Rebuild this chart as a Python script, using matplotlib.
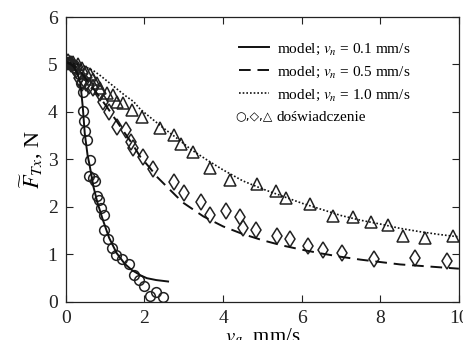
import matplotlib
matplotlib.use('Agg')
import matplotlib.pyplot as plt
from matplotlib.text import Text

plt.rcParams['font.family'] = ['Liberation Serif', 'DejaVu Sans']
plt.rcParams['mathtext.fontset'] = 'stix'

# measured points, v_n = 0.1 mm/s (circles)
circ_x = [0.00, 0.05, 0.10, 0.15, 0.20, 0.26, 0.33, 0.38, 0.43, 0.44, 0.46, 0.48, 0.53,
          0.61, 0.60, 0.68, 0.75, 0.79, 0.85, 0.90, 0.97, 0.96, 1.07, 1.17, 1.27, 1.44,
          1.61, 1.73, 1.87, 1.98, 2.14, 2.29, 2.47]
circ_y = [5.03, 5.06, 5.04, 5.01, 4.98, 4.93, 4.80, 4.62, 4.43, 4.02, 3.80, 3.59, 3.40,
          2.99, 2.65, 2.60, 2.55, 2.24, 2.14, 1.97, 1.83, 1.52, 1.32, 1.14, 0.99, 0.91,
          0.80, 0.57, 0.47, 0.34, 0.13, 0.21, 0.11]

# measured points, v_n = 0.5 mm/s (diamonds)
diam_x = [0.05, 0.12, 0.20, 0.27, 0.34, 0.40, 0.50, 0.60, 0.70, 0.87, 0.95, 1.10, 1.29,
          1.53, 1.65, 1.72, 1.97, 2.21, 2.76, 3.00, 3.44, 3.67, 4.08, 4.42, 4.51, 4.85,
          5.36, 5.71, 6.16, 6.55, 7.02, 7.84, 8.89, 9.69]
diam_y = [5.05, 5.02, 4.95, 4.88, 4.72, 4.60, 4.62, 4.55, 4.50, 4.39, 4.22, 4.00, 3.69,
          3.62, 3.37, 3.24, 3.06, 2.79, 2.53, 2.30, 2.11, 1.83, 1.92, 1.78, 1.55, 1.52,
          1.38, 1.33, 1.18, 1.09, 1.04, 0.91, 0.93, 0.86]

# measured points, v_n = 1.0 mm/s (triangles)
tri_x = [0.10, 0.19, 0.30, 0.40, 0.50, 0.61, 0.70, 0.78, 0.87, 1.04, 1.21, 1.29, 1.46,
         1.68, 1.93, 2.40, 2.76, 2.94, 3.24, 3.66, 4.17, 4.87, 5.35, 5.59, 6.22, 6.80,
         7.31, 7.77, 8.20, 8.59, 9.13, 9.84]
tri_y = [5.05, 5.06, 5.00, 4.92, 4.85, 4.81, 4.70, 4.60, 4.50, 4.40, 4.36, 4.22, 4.18,
         4.04, 3.90, 3.66, 3.52, 3.33, 3.15, 2.82, 2.56, 2.49, 2.34, 2.18, 2.06, 1.81,
         1.78, 1.69, 1.61, 1.39, 1.34, 1.39]

# model curves
m1_x = [0.0, 0.1, 0.2, 0.3, 0.37, 0.43, 0.48, 0.55, 0.61, 0.70, 0.80, 0.94, 1.10, 1.29,
        1.50, 1.68, 1.90, 2.06, 2.30, 2.60]
m1_y = [5.05, 5.02, 4.95, 4.80, 4.60, 4.10, 3.55, 3.10, 2.85, 2.43, 2.10, 1.73, 1.35, 1.03,
        0.80, 0.67, 0.56, 0.50, 0.46, 0.43]

m2_x = [0.0, 0.2, 0.4, 0.6, 0.8, 1.04, 1.33, 1.68, 1.89, 2.14, 2.31, 2.82, 3.0, 3.5, 4.0,
        4.5, 5.0, 5.5, 6.0, 6.5, 7.0, 7.5, 8.0, 8.5, 9.0, 9.5, 10.0]
m2_y = [5.05, 4.98, 4.82, 4.60, 4.38, 4.11, 3.76, 3.34, 3.06, 2.82, 2.64, 2.22, 2.08, 1.80,
        1.59, 1.43, 1.30, 1.19, 1.10, 1.02, 0.95, 0.89, 0.84, 0.79, 0.76, 0.73, 0.70]

m3_x = [0.0, 0.4, 0.7, 0.87, 1.2, 1.5, 1.72, 1.89, 2.23, 2.5, 2.82, 3.2, 3.59, 4.0, 4.5,
        5.0, 5.5, 6.0, 6.5, 7.0, 7.5, 8.0, 8.5, 9.0, 9.5, 10.0]
m3_y = [5.05, 4.99, 4.87, 4.77, 4.55, 4.35, 4.22, 4.06, 3.83, 3.65, 3.45, 3.20, 2.99, 2.78,
        2.55, 2.38, 2.23, 2.08, 1.95, 1.82, 1.72, 1.64, 1.55, 1.48, 1.42, 1.37]

labels = ['model; $v_n$ = 0.1 mm/s', 'model; $v_n$ = 0.5 mm/s',
          'model; $v_n$ = 1.0 mm/s', 'doświadczenie']


class SymbolHandler:
    def legend_artist(self, legend, orig_handle, fontsize, handlebox):
        t = Text(handlebox.xdescent + handlebox.width / 2, handlebox.height / 2 - 1,
                 '○,◇,△', fontsize=fontsize * 0.8, ha='center', va='center',
                 family=['DejaVu Sans'])
        handlebox.add_artist(t)
        return t


fig = plt.figure(figsize=(4.64, 3.40), dpi=100)
ax = fig.add_axes([0.142, 0.112, 0.847, 0.838])

mk = dict(linestyle='none', markerfacecolor='none', markeredgecolor='#222222',
          markeredgewidth=1.1)
ax.plot(circ_x, circ_y, marker='o', markersize=7, **mk)
ax.plot(diam_x, diam_y, marker='d', markersize=8, **mk)
ax.plot(tri_x, tri_y, marker='^', markersize=8, **mk)

l1, = ax.plot(m1_x, m1_y, color='#111111', lw=1.4, linestyle='-')
l2, = ax.plot(m2_x, m2_y, color='#111111', lw=1.4, linestyle=(0, (6, 3.5)))
l3, = ax.plot(m3_x, m3_y, color='#111111', lw=1.2, linestyle=(0, (1, 1.2)))

ax.set_xlim(0, 10)
ax.set_ylim(0, 6)
ax.set_xticks([0, 2, 4, 6, 8, 10])
ax.set_yticks([0, 1, 2, 3, 4, 5, 6])
ax.tick_params(direction='in', top=True, right=True, length=5, width=0.8,
               labelsize=14, pad=6, colors='#222222')
for s in ax.spines.values():
    s.set_linewidth(0.9)
    s.set_color('#222222')

ax.set_xlabel('$v_g$, mm/s', fontsize=15, labelpad=-1)
ax.set_ylabel(r'$\widetilde{F}_{Tx}$, N', fontsize=16, labelpad=2)

dummy = object()
ax.legend([l1, l2, l3, dummy], labels, handler_map={dummy: SymbolHandler()},
          loc='upper left', bbox_to_anchor=(0.42, 0.94), frameon=False,
          fontsize=11, handlelength=2.0, handletextpad=0.5, labelspacing=0.5,
          borderpad=0)

fig.savefig('out.png', dpi=100)
